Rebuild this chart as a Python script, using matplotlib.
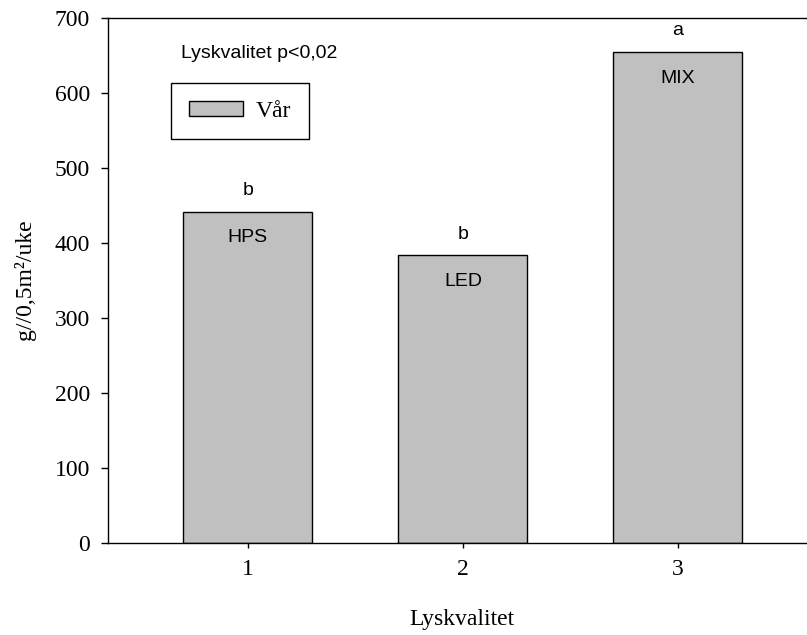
import matplotlib
matplotlib.use("Agg")
import matplotlib.pyplot as plt

# data
positions = [1, 2, 3]
values = [442, 384, 655]
inner_labels = ["HPS", "LED", "MIX"]
group_letters = ["b", "b", "a"]
y_ticks = [0, 100, 200, 300, 400, 500, 600, 700]

serif = "Liberation Serif"
sans = "Liberation Sans"

fig = plt.figure(figsize=(8.07, 6.35), dpi=100)
ax = fig.add_axes([108 / 807, 1 - 543 / 635, 1 - 108 / 807, (543 - 18) / 635])

bars = ax.bar(positions, values, width=0.6, color="#c0c0c0", edgecolor="black",
              linewidth=1.0, label="Vår", zorder=2)

# letters above and names inside each bar
for x, v, name, letter in zip(positions, values, inner_labels, group_letters):
    ax.annotate(letter, (x, v), xytext=(0, 15), textcoords="offset points",
                ha="center", va="center", family=sans, fontsize=14)
    ax.annotate(name, (x, v), xytext=(0, -19), textcoords="offset points",
                ha="center", va="center", family=sans, fontsize=14)

ax.set_xlim(0.35, 3.6)
ax.set_ylim(0, 700)
ax.set_xticks(positions)
ax.set_yticks(y_ticks)

for lab in ax.get_xticklabels() + ax.get_yticklabels():
    lab.set_family(serif)
    lab.set_fontsize(17)

ax.tick_params(axis="y", direction="out", length=5, width=1.0, pad=8)
ax.tick_params(axis="x", direction="out", length=3.6, width=1.0, pad=8)

ax.spines["right"].set_visible(False)
for s in ["left", "bottom", "top"]:
    ax.spines[s].set_linewidth(1.0)

ax.set_xlabel("Lyskvalitet", family=serif, fontsize=17)
ax.xaxis.set_label_coords(0.506, -0.126)
fig.text(25 / 807, 1 - 280 / 635, "g//0,5m²/uke", rotation=90, ha="center",
         va="center", family=serif, fontsize=17)

ax.text(259 / 807, 1 - 53 / 635, "Lyskvalitet p<0,02", transform=fig.transFigure,
        ha="center", va="center", family=sans, fontsize=14)

leg = ax.legend(loc="upper left", bbox_to_anchor=(171 / 807, 1 - 83 / 635),
                bbox_transform=fig.transFigure, borderaxespad=0, fancybox=False,
                edgecolor="black", framealpha=1, handlelength=2.3, handleheight=0.6,
                handletextpad=0.55, borderpad=0.75, prop={"family": serif, "size": 17})
leg.get_frame().set_linewidth(1.0)

fig.savefig("out.png", dpi=100)
